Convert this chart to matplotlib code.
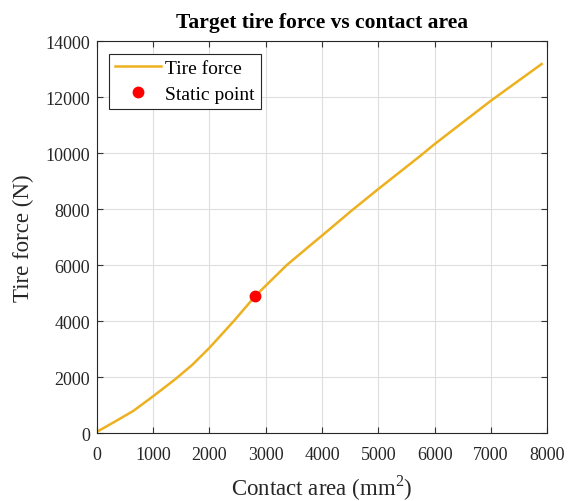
import matplotlib
matplotlib.use("Agg")
import matplotlib.pyplot as plt

# contact area (mm^2) and tire force (N)
contact_area = [0, 300, 650, 1000, 1400, 1700, 2000, 2430, 2810, 3000, 3370,
                3760, 4000, 4530, 5000, 5740, 6000, 7000, 7900]
tire_force = [50, 390, 800, 1320, 1940, 2450, 3050, 4000, 4890, 5270, 6000,
              6660, 7060, 7960, 8725, 9900, 10330, 11880, 13190]

static_area = 2810
static_force = 4890

plt.rcParams['font.family'] = ['Liberation Serif', 'DejaVu Serif']
plt.rcParams['mathtext.fontset'] = 'custom'
plt.rcParams['mathtext.rm'] = 'Liberation Serif'

fig = plt.figure(figsize=(5.7, 5.02), dpi=100)
ax = fig.add_axes([96.7 / 570, 1 - 434.3 / 502, 450.6 / 570, 392 / 502])

ax.plot(contact_area, tire_force, color='#EDB120', lw=1.8, label='Tire force')
ax.plot(static_area, static_force, 'o', color='#FF0000', ms=7.5, label='Static point')

ax.set_xlim(0, 8000)
ax.set_ylim(0, 14000)
ax.set_xticks(range(0, 8001, 1000))
ax.set_yticks(range(0, 14001, 2000))
ax.grid(True, color='#dedede', lw=0.8)
ax.set_axisbelow(True)
ax.tick_params(direction='in', top=True, right=True, labelsize=13,
               color='#333333', length=4, labelcolor='#262626')
ax.tick_params(axis='x', pad=9)
ax.tick_params(axis='y', pad=5)
for s in ax.spines.values():
    s.set_color('#262626')
    s.set_linewidth(0.8)

ax.set_xlabel('Contact area (mm$^2$)', fontsize=16.5, labelpad=7, color='#262626')
ax.set_ylabel('Tire force (N)', fontsize=16.5, labelpad=8, color='#262626')
ax.set_title('Target tire force vs contact area', fontsize=15.5,
             fontweight='bold', pad=10)

leg = ax.legend(loc='upper left', fontsize=14, fancybox=False, framealpha=1,
                edgecolor='#262626', borderpad=0.3, handlelength=2.4,
                handletextpad=0.2, labelspacing=0.4, borderaxespad=0,
                bbox_to_anchor=(0.027, 0.968))
leg.get_frame().set_linewidth(0.8)

fig.savefig('out.png', dpi=100)
